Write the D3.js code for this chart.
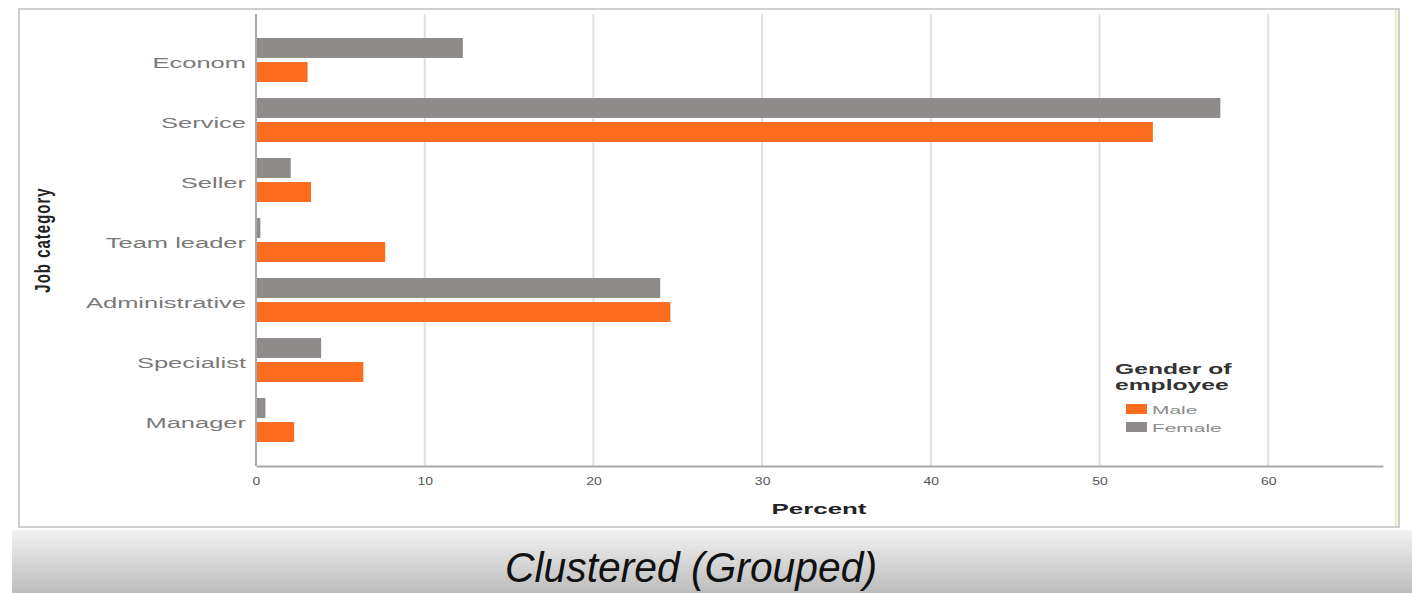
<!DOCTYPE html>
<html>
<head>
<meta charset="utf-8">
<script src="https://cdn.jsdelivr.net/npm/d3@7"></script>
<style>
  html, body { margin: 0; padding: 0; background: #ffffff; }
  svg { display: block; }
</style>
</head>
<body>
<svg id="chart" width="1412" height="593"></svg>
<script>
// Job categories, top to bottom
const categories = ["Econom", "Service", "Seller", "Team leader", "Administrative", "Specialist", "Manager"];
// Series order within each cluster (Female drawn above Male)
const seriesNames = ["Female", "Male"];
// Percent of employees by gender
const femaleValues = [12.2, 57.1, 2.0, 0.2, 23.9, 3.8, 0.5];
const maleValues   = [3.0, 53.1, 3.2, 7.6, 24.5, 6.3, 2.2];
// Axis ticks
const xTicks = [0, 10, 20, 30, 40, 50, 60];
// Legend entries (order shown)
const legendItems = ["Male", "Female"];

const colors = { Male: "#fb6c1e", Female: "#8f8b8b" };
const sans = "'Liberation Sans', Arial, sans-serif";

const rows = categories.map((c, i) => ({ category: c, Female: femaleValues[i], Male: maleValues[i] }));

const svg = d3.select("#chart");

// Text inside the chart panel is drawn horizontally widened
function wideText(parent, x, y, sx, rotate) {
  const g = parent.append("g")
    .attr("transform", `translate(${x},${y}) scale(${sx},1)` + (rotate ? ` rotate(${rotate})` : ""));
  return g.append("text");
}

// Caption band at the bottom
const defs = svg.append("defs");
const grad = defs.append("linearGradient").attr("id", "band").attr("x1", 0).attr("y1", 0).attr("x2", 0).attr("y2", 1);
grad.append("stop").attr("offset", "0%").attr("stop-color", "#f2f2f2");
grad.append("stop").attr("offset", "100%").attr("stop-color", "#bcbcbc");
svg.append("rect").attr("x", 12).attr("y", 530).attr("width", 1400).attr("height", 63).attr("fill", "url(#band)");

svg.append("text")
  .attr("x", 691).attr("y", 582)
  .attr("text-anchor", "middle")
  .attr("font-family", "'Liberation Sans Narrow', 'Arial Narrow', 'Liberation Sans', Arial, sans-serif")
  .attr("font-style", "italic")
  .attr("font-size", 42)
  .attr("fill", "#111")
  .attr("textLength", 372)
  .attr("lengthAdjust", "spacingAndGlyphs")
  .text("Clustered (Grouped)");

// Chart panel
svg.append("rect").attr("x", 19).attr("y", 9).attr("width", 1380).attr("height", 518)
  .attr("fill", "#ffffff").attr("stroke", "#cfcfcf").attr("stroke-width", 2);
svg.append("line").attr("x1", 1396).attr("x2", 1396).attr("y1", 10).attr("y2", 526)
  .attr("stroke", "#f1eecf").attr("stroke-width", 3);

// Scales
const x = d3.scaleLinear().domain([0, 66.8]).range([256, 1383]);
const y = d3.scaleBand().domain(categories).range([30, 450]).paddingInner(0.2667).paddingOuter(0.1333);
const ySub = d3.scaleBand().domain(seriesNames).range([0, y.bandwidth()]).paddingInner(0.17);

const plotTop = 14, plotBottom = 466;

// Vertical gridlines
svg.append("g").selectAll("line")
  .data(xTicks.filter(t => t > 0))
  .join("line")
  .attr("x1", d => x(d)).attr("x2", d => x(d))
  .attr("y1", plotTop).attr("y2", plotBottom)
  .attr("stroke", "#e0e0e0").attr("stroke-width", 2);

// Bars
const groups = svg.append("g").selectAll("g")
  .data(rows)
  .join("g")
  .attr("transform", d => `translate(0,${y(d.category)})`);

groups.selectAll("rect")
  .data(d => seriesNames.map(s => ({ series: s, value: d[s] })))
  .join("rect")
  .attr("x", x(0) + 1)
  .attr("y", d => ySub(d.series))
  .attr("width", d => Math.max(0, x(d.value) - x(0)))
  .attr("height", ySub.bandwidth())
  .attr("fill", d => colors[d.series]);

// X axis
const xAxis = d3.axisBottom(x).tickValues(xTicks).tickSize(0).tickPadding(12).tickFormat(d3.format("d"));
const gx = svg.append("g").attr("transform", `translate(0,${plotBottom})`).call(xAxis);
gx.select(".domain").attr("stroke", "#a8a8a8").attr("stroke-width", 2);
gx.selectAll("text").attr("font-family", sans).attr("font-size", 10).attr("fill", "#555")
  .attr("transform", "scale(1.4,1)");

// Y axis
const yStretch = 1.7;
const yAxis = d3.axisLeft(y).tickSize(0).tickPadding(10);
const gy = svg.append("g").attr("transform", "translate(256,0)").call(yAxis);
gy.select(".domain").attr("d", `M0,${plotTop}V${plotBottom}`).attr("stroke", "#a8a8a8").attr("stroke-width", 2);
gy.selectAll("text").attr("font-family", sans).attr("font-size", 15).attr("fill", "#7a7a7a")
  .attr("x", -10 / yStretch).attr("transform", `scale(${yStretch},1)`).attr("dy", "0.5em");

// Axis titles
wideText(svg, 819, 514, 1.85, 0)
  .attr("text-anchor", "middle")
  .attr("font-family", sans).attr("font-weight", "bold").attr("font-size", 14)
  .attr("fill", "#222").text("Percent");

wideText(svg, 50, 240, 1.5, -90)
  .attr("text-anchor", "middle")
  .attr("font-family", sans).attr("font-weight", "bold").attr("font-size", 15)
  .attr("letter-spacing", 1).attr("fill", "#222").text("Job category");

// Legend
const legend = svg.append("g").attr("transform", "translate(1115,0)");
wideText(legend, 0, 374, 1.7, 0)
  .attr("font-family", sans).attr("font-weight", "bold").attr("font-size", 14.5)
  .attr("fill", "#333").text("Gender of");
wideText(legend, 0, 390, 1.7, 0)
  .attr("font-family", sans).attr("font-weight", "bold").attr("font-size", 14.5)
  .attr("fill", "#333").text("employee");
const li = legend.selectAll("g.item").data(legendItems).join("g").attr("class", "item")
  .attr("transform", (d, i) => `translate(11,${404 + i * 18})`);
li.append("rect").attr("width", 21).attr("height", 10).attr("fill", d => colors[d]);
li.append("g").attr("transform", "translate(26,9.5) scale(1.9,1)")
  .append("text")
  .attr("font-family", sans).attr("font-size", 11)
  .attr("fill", "#8a8a8a").text(d => d);
</script>
</body>
</html>
